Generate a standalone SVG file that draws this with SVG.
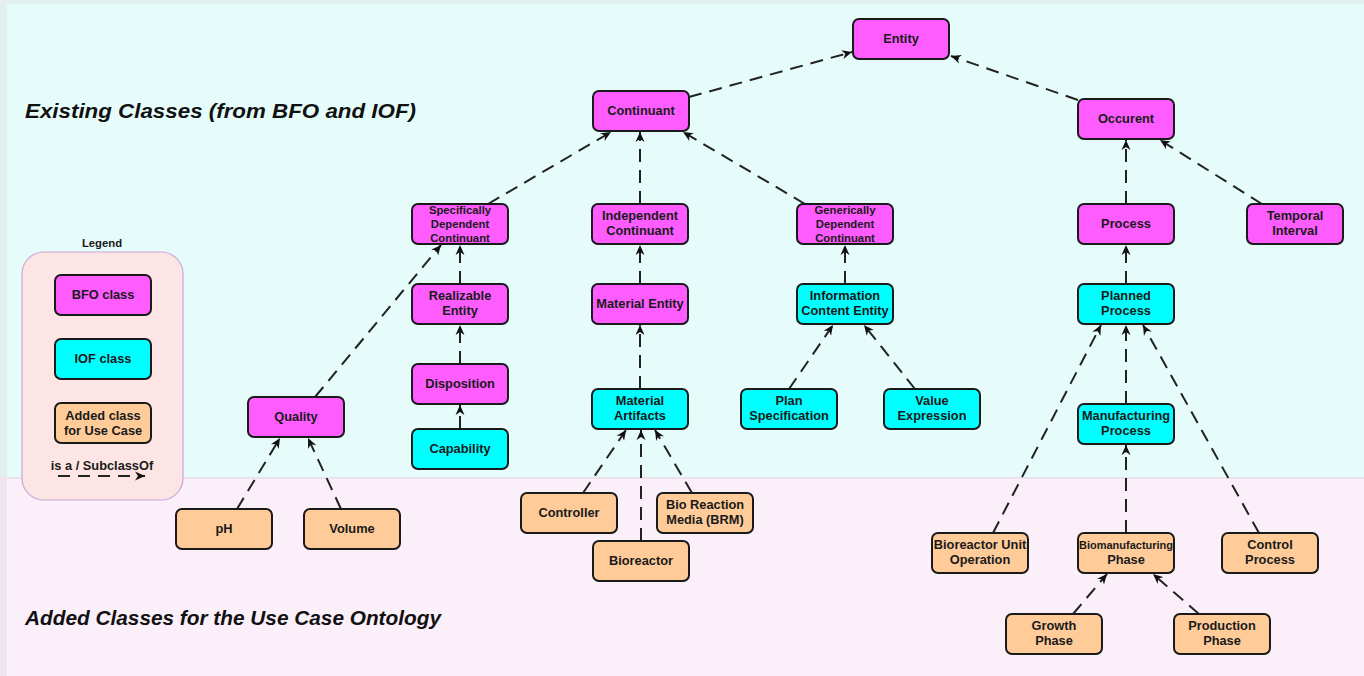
<svg xmlns="http://www.w3.org/2000/svg" width="1364" height="676" viewBox="0 0 1364 676">
<style>
.n rect{stroke:#1a1a1a;stroke-width:2}
.bfo rect{fill:#ff5cff}
.iof rect{fill:#00ffff}
.add rect{fill:#ffcc99}
text{font-family:"Liberation Sans",Arial,sans-serif;font-weight:bold;font-size:12.8px;fill:#1a1a1a;text-anchor:middle}
.sm{font-size:11.3px}
.title{font-size:21px;font-style:italic;text-anchor:start;fill:#111}
#edges line{stroke:#222;stroke-width:2;stroke-dasharray:13 8;fill:none}
</style>
<defs>
<marker id="ar" viewBox="0 0 10 10" refX="10" refY="5" markerWidth="10" markerHeight="10" markerUnits="userSpaceOnUse" orient="auto">
<path d="M0,0.5 L10,5 L0,9.5 L3,5 z" fill="#111"/>
</marker>
</defs>
<rect x="0" y="0" width="1364" height="676" fill="#e3eeee"/>
<rect x="7" y="4" width="1357" height="473" fill="#e6fcfb"/>
<rect x="7" y="477" width="1357" height="2" fill="#ebe2eb"/>
<rect x="7" y="479" width="1357" height="197" fill="#fbeffa"/>
<rect x="0" y="477" width="7" height="199" fill="#eee6ee"/>

<text class="title" x="25" y="118" textLength="391" lengthAdjust="spacingAndGlyphs">Existing Classes (from BFO and IOF)</text>
<text class="title" x="25" y="625" textLength="416" lengthAdjust="spacingAndGlyphs">Added Classes for the Use Case Ontology</text>

<g id="legend">
<text x="102" y="247" class="sm">Legend</text>
<rect x="22" y="252" width="161" height="248" rx="22" fill="#fde5e5" stroke="#c9a8d4" stroke-width="1.2"/>
<g class="n bfo"><rect x="55" y="275" width="96" height="40" rx="6"/><text x="103" y="299">BFO class</text></g>
<g class="n iof"><rect x="55" y="339" width="96" height="40" rx="6"/><text x="103" y="363">IOF class</text></g>
<g class="n add"><rect x="55" y="403" width="96" height="40" rx="6"/><text x="103" y="420">Added class</text><text x="103" y="435">for Use Case</text></g>
<text x="102" y="470">is a / SubclassOf</text>
<line x1="58" y1="476" x2="145" y2="476" stroke="#222" stroke-width="2" stroke-dasharray="12 8" marker-end="url(#ar)"/>
</g>

<g id="edges">
<line x1="689" y1="97" x2="852" y2="52" marker-end="url(#ar)"/>
<line x1="1078" y1="100" x2="951" y2="56" marker-end="url(#ar)"/>
<line x1="488" y1="204" x2="611" y2="132" marker-end="url(#ar)"/>
<line x1="640" y1="204" x2="640" y2="132" marker-end="url(#ar)"/>
<line x1="805" y1="204" x2="683" y2="132" marker-end="url(#ar)"/>
<line x1="1126" y1="204" x2="1126" y2="140" marker-end="url(#ar)"/>
<line x1="1262" y1="204" x2="1160" y2="140" marker-end="url(#ar)"/>
<line x1="460" y1="284" x2="460" y2="245" marker-end="url(#ar)"/>
<line x1="315" y1="397" x2="441" y2="245" marker-end="url(#ar)"/>
<line x1="640" y1="284" x2="640" y2="245" marker-end="url(#ar)"/>
<line x1="845" y1="284" x2="845" y2="245" marker-end="url(#ar)"/>
<line x1="1126" y1="284" x2="1126" y2="245" marker-end="url(#ar)"/>
<line x1="460" y1="364" x2="460" y2="325" marker-end="url(#ar)"/>
<line x1="460" y1="429" x2="460" y2="405" marker-end="url(#ar)"/>
<line x1="640" y1="389" x2="640" y2="325" marker-end="url(#ar)"/>
<line x1="789" y1="389" x2="833" y2="325" marker-end="url(#ar)"/>
<line x1="915" y1="389" x2="864" y2="325" marker-end="url(#ar)"/>
<line x1="1126" y1="404" x2="1126" y2="325" marker-end="url(#ar)"/>
<line x1="993" y1="533" x2="1101" y2="325" marker-end="url(#ar)"/>
<line x1="1259" y1="533" x2="1143" y2="325" marker-end="url(#ar)"/>
<line x1="1126" y1="533" x2="1126" y2="445" marker-end="url(#ar)"/>
<line x1="1073" y1="614" x2="1107" y2="574" marker-end="url(#ar)"/>
<line x1="1199" y1="614" x2="1153" y2="574" marker-end="url(#ar)"/>
<line x1="583" y1="493" x2="626" y2="430" marker-end="url(#ar)"/>
<line x1="641" y1="541" x2="641" y2="430" marker-end="url(#ar)"/>
<line x1="692" y1="493" x2="655" y2="430" marker-end="url(#ar)"/>
<line x1="237" y1="509" x2="280" y2="438" marker-end="url(#ar)"/>
<line x1="341" y1="509" x2="308" y2="438" marker-end="url(#ar)"/>
</g>

<g id="entity" class="n bfo"><rect x="853" y="19" width="96" height="40" rx="6"/><text x="901" y="43">Entity</text></g>
<g id="continuant" class="n bfo"><rect x="593" y="91" width="96" height="40" rx="6"/><text x="641" y="115">Continuant</text></g>
<g id="occurent" class="n bfo"><rect x="1078" y="99" width="96" height="40" rx="6"/><text x="1126" y="123">Occurent</text></g>
<g id="sdc" class="n bfo"><rect x="412" y="204" width="96" height="40" rx="6"/><text class="sm" x="460" y="214">Specifically</text><text class="sm" x="460" y="228">Dependent</text><text class="sm" x="460" y="242">Continuant</text></g>
<g id="ic" class="n bfo"><rect x="592" y="204" width="96" height="40" rx="6"/><text x="640" y="220">Independent</text><text x="640" y="235">Continuant</text></g>
<g id="gdc" class="n bfo"><rect x="797" y="204" width="96" height="40" rx="6"/><text class="sm" x="845" y="214">Generically</text><text class="sm" x="845" y="228">Dependent</text><text class="sm" x="845" y="242">Continuant</text></g>
<g id="process" class="n bfo"><rect x="1078" y="204" width="96" height="40" rx="6"/><text x="1126" y="228">Process</text></g>
<g id="temporal" class="n bfo"><rect x="1247" y="204" width="96" height="40" rx="6"/><text x="1295" y="220">Temporal</text><text x="1295" y="235">Interval</text></g>
<g id="realizable" class="n bfo"><rect x="412" y="284" width="96" height="40" rx="6"/><text x="460" y="300">Realizable</text><text x="460" y="315">Entity</text></g>
<g id="material" class="n bfo"><rect x="592" y="284" width="96" height="40" rx="6"/><text x="640" y="308">Material Entity</text></g>
<g id="ice" class="n iof"><rect x="797" y="284" width="96" height="40" rx="6"/><text x="845" y="300">Information</text><text x="845" y="315">Content Entity</text></g>
<g id="planned" class="n iof"><rect x="1078" y="284" width="96" height="40" rx="6"/><text x="1126" y="300">Planned</text><text x="1126" y="315">Process</text></g>
<g id="disposition" class="n bfo"><rect x="412" y="364" width="96" height="40" rx="6"/><text x="460" y="388">Disposition</text></g>
<g id="quality" class="n bfo"><rect x="248" y="397" width="96" height="40" rx="6"/><text x="296" y="421">Quality</text></g>
<g id="artifacts" class="n iof"><rect x="592" y="389" width="96" height="40" rx="6"/><text x="640" y="405">Material</text><text x="640" y="420">Artifacts</text></g>
<g id="planspec" class="n iof"><rect x="741" y="389" width="96" height="40" rx="6"/><text x="789" y="405">Plan</text><text x="789" y="420">Specification</text></g>
<g id="valueexp" class="n iof"><rect x="884" y="389" width="96" height="40" rx="6"/><text x="932" y="405">Value</text><text x="932" y="420">Expression</text></g>
<g id="manufacturing" class="n iof"><rect x="1078" y="404" width="96" height="40" rx="6"/><text x="1126" y="420">Manufacturing</text><text x="1126" y="435">Process</text></g>
<g id="capability" class="n iof"><rect x="412" y="429" width="96" height="40" rx="6"/><text x="460" y="453">Capability</text></g>
<g id="ph" class="n add"><rect x="176" y="509" width="96" height="40" rx="6"/><text x="224" y="533">pH</text></g>
<g id="volume" class="n add"><rect x="304" y="509" width="96" height="40" rx="6"/><text x="352" y="533">Volume</text></g>
<g id="controller" class="n add"><rect x="521" y="493" width="96" height="40" rx="6"/><text x="569" y="517">Controller</text></g>
<g id="brm" class="n add"><rect x="657" y="493" width="96" height="40" rx="6"/><text x="705" y="509">Bio Reaction</text><text x="705" y="524">Media (BRM)</text></g>
<g id="bioreactor" class="n add"><rect x="593" y="541" width="96" height="40" rx="6"/><text x="641" y="565">Bioreactor</text></g>
<g id="buo" class="n add"><rect x="932" y="533" width="96" height="40" rx="6"/><text x="980" y="549">Bioreactor Unit</text><text x="980" y="564">Operation</text></g>
<g id="biomanuf" class="n add"><rect x="1078" y="533" width="96" height="40" rx="6"/><text class="sm" x="1126" y="549" textLength="94" lengthAdjust="spacingAndGlyphs">Biomanufacturing</text><text x="1126" y="564">Phase</text></g>
<g id="control" class="n add"><rect x="1222" y="533" width="96" height="40" rx="6"/><text x="1270" y="549">Control</text><text x="1270" y="564">Process</text></g>
<g id="growth" class="n add"><rect x="1006" y="614" width="96" height="40" rx="6"/><text x="1054" y="630">Growth</text><text x="1054" y="645">Phase</text></g>
<g id="production" class="n add"><rect x="1174" y="614" width="96" height="40" rx="6"/><text x="1222" y="630">Production</text><text x="1222" y="645">Phase</text></g>
</svg>
